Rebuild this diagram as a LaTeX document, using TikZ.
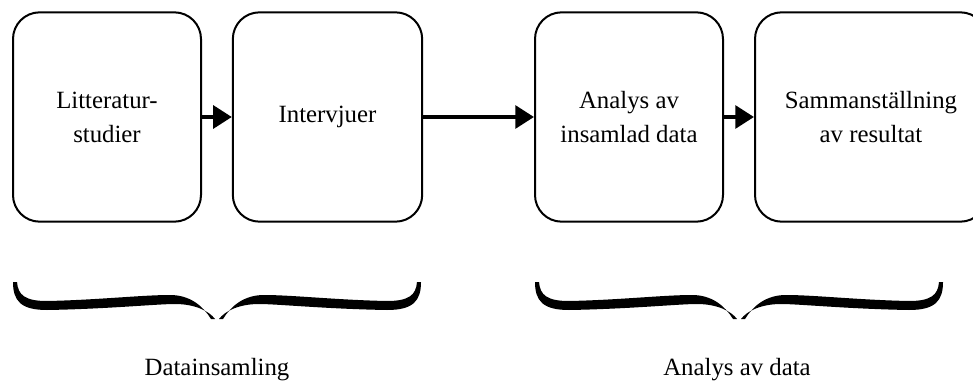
\documentclass[tikz,border=0pt]{standalone}
\usepackage{fontspec}
\setmainfont{Liberation Serif}
\usetikzlibrary{arrows.meta}

% one half of a curly brace, tip at the origin
\newcommand{\halfbrace}{%
	\fill (-204,-37) .. controls (-204,-18) and (-196,-9) .. (-170,-9)
		.. controls (-110,-10) and (-60,-15) .. (-42,-15)
		.. controls (-22,-15) and (-8,-8) .. (-2,0)
		-- (-6,0)
		.. controls (-14,-13) and (-27,-24) .. (-47,-24)
		.. controls (-75,-24) and (-120,-19) .. (-170,-18)
		.. controls (-192,-18) and (-199,-24) .. (-200,-37)
		-- cycle;}

\begin{document}
\begin{tikzpicture}[x=0.75pt, y=-0.75pt,
		box/.style={draw, line width=1.5pt, rounded corners=20pt, minimum height=157pt, align=center, font=\fontsize{18.6}{25.5}\selectfont},
		flow/.style={line width=3pt, -{Triangle[length=14pt, width=17pt]}},
		label/.style={anchor=base, font=\fontsize{18.6}{25.5}\selectfont}]
			\clip (0,0) rectangle (973,381);
			\node [box, minimum width=141pt] (lit) at (107,117) {Litteratur-\\studier};
			\node [box, minimum width=142pt] (int) at (327.5,117) {Intervjuer};
			\node [box, minimum width=141pt] (ana) at (629,117) {Analys av\\insamlad data};
			\node [box, minimum width=174pt] (sam) at (871,117) {Sammanställning\\av resultat};
			\draw [flow] (lit) -- (int);
			\draw [flow] (int) -- (ana);
			\draw [flow] (ana) -- (sam);
			\begin{scope}[shift={(217,319)}]
				\halfbrace
				\begin{scope}[xscale=-1] \halfbrace \end{scope}
			\end{scope}
			\begin{scope}[shift={(739,319)}]
				\halfbrace
				\begin{scope}[xscale=-1] \halfbrace \end{scope}
			\end{scope}
			\node [label] (collect) at (217,375) {Datainsamling};
			\node [label] (analyse) at (737,375) {Analys av data};
	\end{tikzpicture}
\end{document}
